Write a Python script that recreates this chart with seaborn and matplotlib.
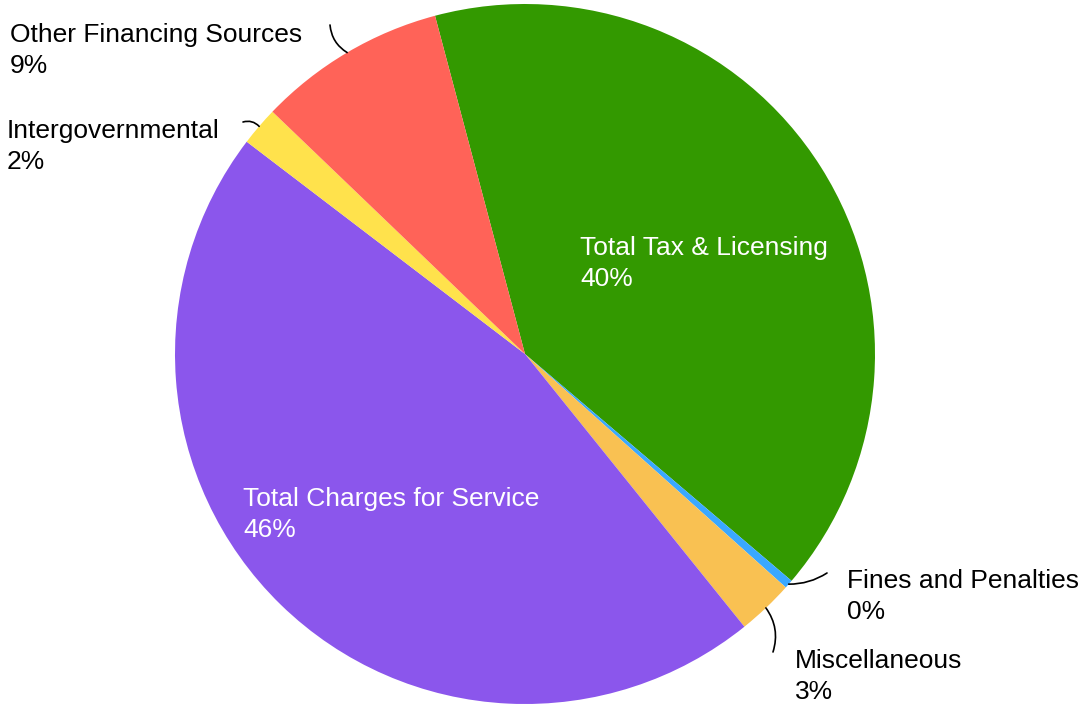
import matplotlib
matplotlib.use("Agg")
import matplotlib.pyplot as plt
import seaborn as sns
import numpy as np

# Revenue share by source (percent of total), in drawing order (clockwise)
categories = ["Total Tax & Licensing", "Fines and Penalties", "Miscellaneous",
              "Total Charges for Service", "Intergovernmental", "Other Financing Sources"]
shares = [40.4, 0.4, 2.6, 46.2, 1.8, 8.7]
slice_colors = ["#339900", "#3aa8ff", "#f9c152", "#8b56ec", "#ffe24c", "#ff6358"]

sns.set_style("white")
plt.rcParams["font.family"] = ["Liberation Sans", "DejaVu Sans"]

W, H = 1081, 704
fig = plt.figure(figsize=(W / 100, H / 100), dpi=100)
ax = fig.add_axes([0, 0, 1, 1])

cx, cy, R = 525, H - 354, 350
start = 104.9
palette = sns.color_palette(slice_colors)
wedges, _ = ax.pie(shares, colors=palette, startangle=start, counterclock=False,
                   center=(cx, cy), radius=R, frame=True,
                   wedgeprops=dict(linewidth=0))
ax.set_xlim(0, W)
ax.set_ylim(0, H)
ax.set_aspect("equal")
ax.axis("off")

total = sum(shares)
pct = [f"{round(v / total * 100):.0f}%" for v in shares]

fs = 19
# label placement: (x, first-line y in pixels from top, colour, leader end, curvature)
layout = {
    "Total Tax & Licensing": (580, 248, "white", None, 0),
    "Total Charges for Service": (243, 499, "white", None, 0),
    "Fines and Penalties": (847, 581, "black", (827, 573), -0.15),
    "Miscellaneous": (795, 661, "black", (773, 652), 0.25),
    "Intergovernmental": (7, 131, "black", (243, 122), -0.3),
    "Other Financing Sources": (10, 35, "black", (330, 25), 0.25),
}

cum = 0.0
for name, v in zip(categories, shares):
    mid = start - (cum + v / 2) / total * 360
    cum += v
    x, y, col, end, rad = layout[name]
    i = categories.index(name)
    ax.text(x, H - y, name, color=col, fontsize=fs, va="center", ha="left")
    ax.text(x, H - y - 31, pct[i], color=col, fontsize=fs, va="center", ha="left")
    if end is not None:
        px = cx + R * np.cos(np.radians(mid))
        py = cy + R * np.sin(np.radians(mid))
        ax.annotate("", xy=(px, py), xytext=(end[0], H - end[1]),
                    arrowprops=dict(arrowstyle="-", color="black", lw=1.2,
                                    connectionstyle=f"arc3,rad={rad}",
                                    shrinkA=0, shrinkB=0))

fig.savefig("out.png", dpi=100, facecolor="white")
